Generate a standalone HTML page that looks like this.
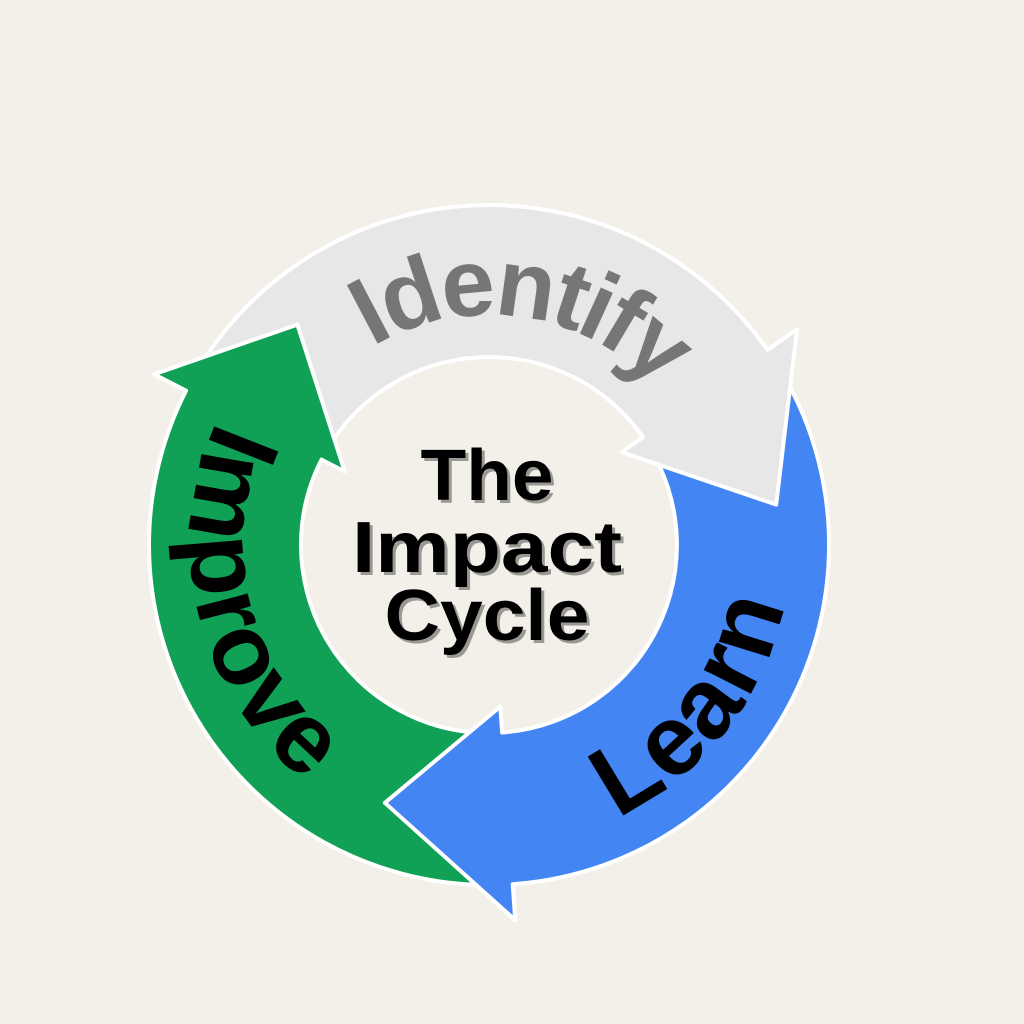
<!DOCTYPE html>
<html><head><meta charset="utf-8"><style>
html,body{margin:0;padding:0;background:#f3f0ea;}
svg{display:block}
</style></head><body>
<svg id="s" width="1024" height="1024" viewBox="0 0 1024 1024" xmlns="http://www.w3.org/2000/svg">
<rect width="1024" height="1024" fill="#f3f0ea"/>
<defs>
<clipPath id="cb"><rect x="300" y="660" width="260" height="300"/></clipPath>
<path id="pId" d=""/>
<path id="pLe" d=""/>
<path id="pIm" d=""/>
</defs>
<g id="arrows"></g>
<g font-family="Liberation Sans, sans-serif" font-weight="bold">
<text font-size="96" fill="#767676" letter-spacing="-4"><textPath href="#pId" startOffset="50%" text-anchor="middle">Identify</textPath></text>
<text font-size="100" fill="#000" letter-spacing="2"><textPath href="#pLe" startOffset="50%" text-anchor="middle">Learn</textPath></text>
<text font-size="100" fill="#000" letter-spacing="2"><textPath href="#pIm" startOffset="50%" text-anchor="middle">Improve</textPath></text>
</g>
<g font-family="Liberation Sans, sans-serif" font-weight="bold" font-size="72" text-anchor="middle">
<g fill="#9a9892" transform="translate(3,3)">
<text x="487" y="500" textLength="133" lengthAdjust="spacingAndGlyphs">The</text>
<text x="487" y="572" textLength="270" lengthAdjust="spacingAndGlyphs">Impact</text>
<text x="487" y="640" textLength="205" lengthAdjust="spacingAndGlyphs">Cycle</text>
</g>
<g fill="#000">
<text x="487" y="500" textLength="133" lengthAdjust="spacingAndGlyphs">The</text>
<text x="487" y="572" textLength="270" lengthAdjust="spacingAndGlyphs">Impact</text>
<text x="487" y="640" textLength="205" lengthAdjust="spacingAndGlyphs">Cycle</text>
</g>
</g>
</svg>
<script>
var cx=489,cy=545,RO=340,RI=188,HO=376,HI=162;
function P(r,a){a=a*Math.PI/180;return (cx+r*Math.cos(a)).toFixed(1)+","+(cy+r*Math.sin(a)).toFixed(1);}
function arrow(a0,a1,at,rt,col,extra){
 var d="M"+P(RO,a0)+" A"+RO+","+RO+" 0 0 1 "+P(RO,a1)+" L"+P(HO,a1)+" L"+P(rt,at)+" L"+P(HI,a1)+" L"+P(RI,a1)+" A"+RI+","+RI+" 0 0 0 "+P(RI,a0)+" Z";
 return '<path d="'+d+'" fill="'+col+'" stroke="#ffffff" stroke-width="4" stroke-linejoin="round" '+(extra||'')+'/>';
}
var g=document.getElementById("arrows");
var blue=arrow(-40,86,112,278,"#4385f2");
g.innerHTML=blue+arrow(-150,-35,-8,290,"#e7e7e7")+arrow(92,207,229,292,"#10a056")
 +'<g clip-path="url(#cb)">'+blue+'</g>';
function arcPath(r,a0,a1,cw){return "M"+P(r,a0)+" A"+r+","+r+" 0 0 "+(cw?1:0)+" "+P(r,a1);}
document.getElementById("pId").setAttribute("d",arcPath(230,-172,8,true));
document.getElementById("pLe").setAttribute("d",arcPath(302,128,-52,false));
document.getElementById("pIm").setAttribute("d",arcPath(302,256,76,false));
</script>
</body></html>
